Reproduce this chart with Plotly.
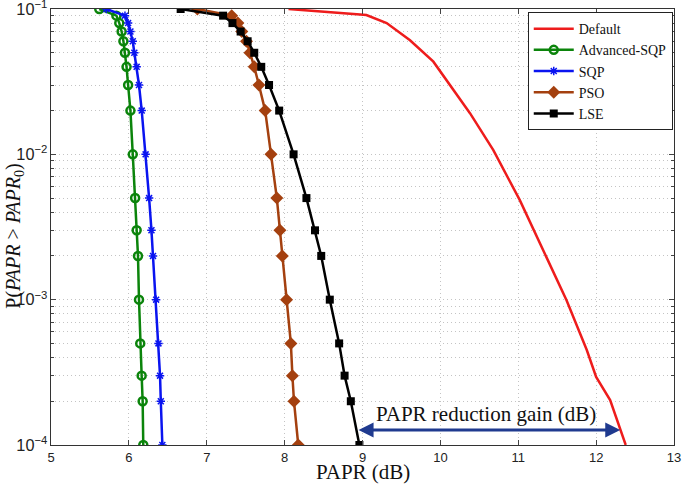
import plotly.graph_objects as go
import math

# probability levels at which the optimized curves are sampled
p_levels = [0.1, 0.09, 0.08, 0.07, 0.06, 0.05, 0.04, 0.03, 0.02, 0.01,
            0.005, 0.003, 0.002, 0.001, 0.0005, 0.0003, 0.0002, 0.0001]

adv_sqp_x = [5.62, 5.84, 5.877, 5.907, 5.93, 5.95, 5.97, 5.99, 6.02, 6.05,
             6.08, 6.10, 6.117, 6.13, 6.146, 6.164, 6.177, 6.185]
sqp_x = [5.71, 5.95, 5.99, 6.02, 6.05, 6.07, 6.10, 6.13, 6.165, 6.215,
         6.26, 6.29, 6.31, 6.35, 6.38, 6.40, 6.41, 6.43]
pso_x = [6.88, 7.32, 7.40, 7.45, 7.51, 7.555, 7.61, 7.67, 7.75, 7.825,
         7.90, 7.94, 7.97, 8.025, 8.08, 8.10, 8.12, 8.175]
lse_x = [6.665, 7.21, 7.33, 7.435, 7.525, 7.61, 7.70, 7.80, 7.93, 8.115,
         8.28, 8.39, 8.47, 8.58, 8.70, 8.77, 8.85, 8.96]

default_x = [8.05, 9.05, 9.31, 9.61, 9.91, 10.12, 10.38, 10.68, 11.02, 11.36,
             11.62, 11.88, 12.00, 12.18, 12.38]
default_y = [0.1, 0.091, 0.08, 0.061, 0.0434, 0.03, 0.0192, 0.0107, 0.00484,
             0.00197, 0.00099, 0.00045, 0.000294, 0.000204, 0.0001]

x_ticks = [5, 6, 7, 8, 9, 10, 11, 12, 13]
gain_left, gain_right, gain_level = 8.93, 12.31, 1.27e-4
gain_label_x = 10.59
gain_label = "PAPR reduction gain (dB)"
x_title = "PAPR (dB)"
y_title = "P(<i>PAPR</i> > <i>PAPR</i><sub>0</sub>)"

SERIF = "Liberation Serif"
SANS = "Liberation Sans"

fig = go.Figure()
fig.add_trace(go.Scatter(x=default_x, y=default_y, mode="lines", name="Default",
                         line=dict(color="#ee1c1c", width=2.5)))
fig.add_trace(go.Scatter(x=adv_sqp_x, y=p_levels, mode="lines+markers", name="Advanced-SQP",
                         line=dict(color="#0b840b", width=2.5),
                         marker=dict(symbol="circle-open", size=8, color="#0b840b",
                                     line=dict(width=2.5, color="#0b840b"))))
fig.add_trace(go.Scatter(x=sqp_x, y=p_levels, mode="lines+markers", name="SQP",
                         line=dict(color="#0a14f0", width=2.5),
                         marker=dict(symbol="asterisk-open", size=7, color="#0a14f0",
                                     line=dict(width=1.5, color="#0a14f0"))))
fig.add_trace(go.Scatter(x=pso_x, y=p_levels, mode="lines+markers", name="PSO",
                         line=dict(color="#a4400f", width=2.5),
                         marker=dict(symbol="diamond", size=10, color="#a4400f")))
fig.add_trace(go.Scatter(x=lse_x, y=p_levels, mode="lines+markers", name="LSE",
                         line=dict(color="#000000", width=2.5),
                         marker=dict(symbol="square", size=8, color="#000000")))

# double-headed arrow (log axis -> annotation coordinates in log10 units)
fig.add_annotation(x=gain_right, y=math.log10(gain_level), ax=gain_left, ay=math.log10(gain_level),
                   xref="x", yref="y", axref="x", ayref="y", text="", showarrow=True,
                   arrowhead=2, arrowside="end+start", arrowsize=1, arrowwidth=3,
                   arrowcolor="#1f3a8f")
fig.add_annotation(x=gain_label_x, y=math.log10(gain_level), yshift=16,
                   xref="x", yref="y", text=gain_label, showarrow=False,
                   font=dict(family=SERIF, size=21, color="#111"))
# axis titles
fig.add_annotation(x=0.5, y=-0.063, xref="paper", yref="paper", text=x_title,
                   showarrow=False, yanchor="middle",
                   font=dict(family=SERIF, size=21, color="#111"))
fig.add_annotation(x=-0.0578, y=0.48, xref="paper", yref="paper", text=y_title,
                   showarrow=False, textangle=-90, xanchor="center", yanchor="middle",
                   font=dict(family=SERIF, size=20, color="#111"))

grid_col = "#c4c4c4"
grid_dash = "1px,3px"
fig.update_layout(
    width=685, height=484,
    margin=dict(l=51, r=11, t=9, b=39),
    paper_bgcolor="white", plot_bgcolor="white",
    showlegend=True,
    legend=dict(x=0.998, y=0.993, xanchor="right", yanchor="top",
                bgcolor="white", bordercolor="#222", borderwidth=1,
                font=dict(family=SERIF, size=14, color="#111"),
                tracegroupgap=0, itemsizing="trace", itemwidth=40),
    xaxis=dict(range=[5, 13], tickvals=x_ticks, ticks="inside", ticklen=5,
               showline=True, linecolor="#333", linewidth=1, mirror="allticks",
               showgrid=True, gridcolor=grid_col, griddash=grid_dash, gridwidth=1,
               zeroline=False, automargin=False,
               tickfont=dict(family=SANS, size=13, color="#222")),
    yaxis=dict(type="log", range=[-4.0001, -0.9999], dtick=1, exponentformat="power",
               ticks="inside", ticklen=5, ticklabeloverflow="allow",
               showline=True, linecolor="#333", linewidth=1, mirror="allticks",
               showgrid=True, gridcolor=grid_col, griddash=grid_dash, gridwidth=1,
               zeroline=False, automargin=False,
               minor=dict(ticks="inside", ticklen=3, showgrid=True, gridcolor=grid_col,
                          griddash=grid_dash, gridwidth=1),
               tickfont=dict(family=SANS, size=13, color="#222")),
)

# remove the browser's default body margin so the figure fills the window exactly
fig.write_html("out.html", config={"displayModeBar": False},
               post_script="document.body.style.margin='0';")
